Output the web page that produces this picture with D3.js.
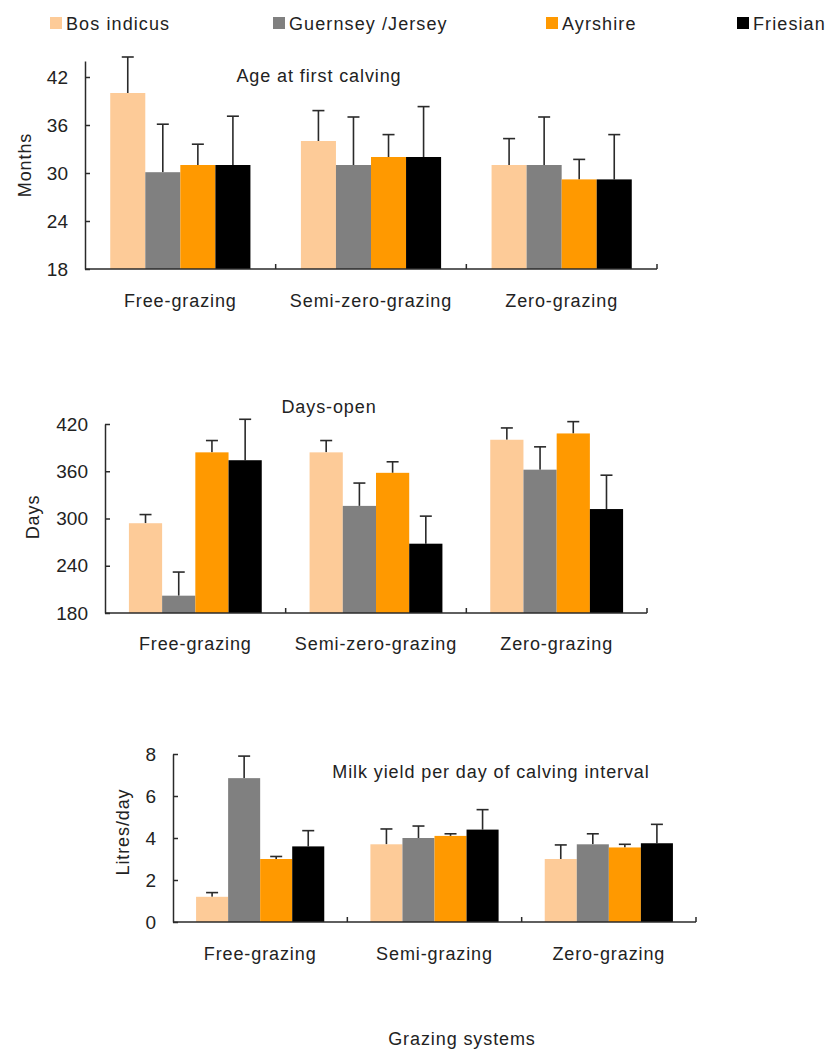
<!DOCTYPE html>
<html>
<head>
<meta charset="utf-8">
<script src="https://cdn.jsdelivr.net/npm/d3@7"></script>
<style>
  body { margin: 0; background: #fff; }
  text { font-family: 'Liberation Sans', Arial, sans-serif; fill: #222; }
</style>
</head>
<body>
<svg id="chart"></svg>
<script>
const series = ['Bos indicus', 'Guernsey /Jersey', 'Ayrshire', 'Friesian']
const colors = ['#fdcb98', '#808080', '#ff9900', '#000000']

// panel 1 - age at first calving (months)
const ageCats = ['Free-grazing', 'Semi-zero-grazing', 'Zero-grazing']
const ageMean = [[40, 30.1, 31, 31], [34, 31, 32, 32], [31, 31, 29.2, 29.2]]
const ageErr = [[4.5, 6, 2.6, 6.1], [3.8, 6, 2.8, 6.3], [3.3, 6, 2.5, 5.6]]
const ageTicks = [18, 24, 30, 36, 42]

// panel 2 - days open
const daysCats = ['Free-grazing', 'Semi-zero-grazing', 'Zero-grazing']
const daysMean = [[294, 202, 384, 374], [384, 316, 358, 268], [400, 362, 408, 312]]
const daysErr = [[11, 30, 15, 52], [15, 29, 14, 35], [15, 29, 15, 43]]
const daysTicks = [180, 240, 300, 360, 420]

// panel 3 - milk yield per day of calving interval
const milkCats = ['Free-grazing', 'Semi-grazing', 'Zero-grazing']
const milkMean = [[1.2, 6.85, 3.0, 3.6], [3.7, 4.0, 4.1, 4.4], [3.0, 3.7, 3.55, 3.75]]
const milkErr = [[0.2, 1.05, 0.12, 0.75], [0.73, 0.57, 0.1, 0.95], [0.67, 0.5, 0.15, 0.9]]
const milkTicks = [0, 2, 4, 6, 8]

const w = 829
const h = 1050
const ink = '#2a2a2a'

let svg = d3.select('#chart')
    .attr('width', w)
    .attr('height', h)

// legend
let legend = svg.append('g')
const legendX = [50, 273, 546, 737]
legend.selectAll('g')
    .data(series)
    .enter().append('g')
        .attr('transform', (d, i) => `translate(${legendX[i]}, 17)`)
    .each(function(d, i) {
        let g = d3.select(this)
        g.append('rect')
            .attr('width', 12).attr('height', 12)
            .attr('fill', colors[i])
        g.append('text')
            .attr('x', 16).attr('y', 12.5)
            .attr('font-size', 18)
            .attr('letter-spacing', 1.1)
            .text(d)
    })

function panel(opt) {
    let g = svg.append('g')

    let x = d3.scaleBand()
        .domain(opt.cats)
        .range([opt.x0, opt.x1])
        .paddingInner(0).paddingOuter(0)

    let xs = d3.scaleBand()
        .domain(series)
        .range([0, x.bandwidth()])
        .paddingInner(0)
        .paddingOuter(0.72)

    let y = d3.scaleLinear()
        .domain(opt.domain)
        .range([opt.yBottom, opt.yTop])

    // bars
    let groups = g.selectAll('g.cat')
        .data(opt.cats)
        .enter().append('g')
            .attr('class', 'cat')
            .attr('transform', d => `translate(${x(d)}, 0)`)

    groups.each(function(c, ci) {
        let cg = d3.select(this)
        let rows = series.map((s, si) => ({ s: s, v: opt.mean[ci][si], e: opt.err[ci][si], i: si }))

        cg.selectAll('line.err')
            .data(rows)
            .enter().append('line')
                .attr('x1', d => xs(d.s) + xs.bandwidth() / 2)
                .attr('x2', d => xs(d.s) + xs.bandwidth() / 2)
                .attr('y1', d => y(d.v))
                .attr('y2', d => y(d.v + d.e))
                .attr('stroke', ink)
                .attr('stroke-width', 1.6)

        cg.selectAll('line.cap')
            .data(rows)
            .enter().append('line')
                .attr('x1', d => xs(d.s) + xs.bandwidth() / 2 - 6)
                .attr('x2', d => xs(d.s) + xs.bandwidth() / 2 + 6)
                .attr('y1', d => y(d.v + d.e))
                .attr('y2', d => y(d.v + d.e))
                .attr('stroke', ink)
                .attr('stroke-width', 1.6)

        cg.selectAll('rect')
            .data(rows)
            .enter().append('rect')
                .attr('x', d => xs(d.s))
                .attr('width', xs.bandwidth())
                .attr('y', d => y(d.v))
                .attr('height', d => y(opt.domain[0]) - y(d.v))
                .attr('fill', d => colors[d.i])
    })

    // y axis, ticks pointing inwards
    let yAxis = g.append('g')
        .attr('transform', `translate(${opt.x0}, 0)`)
        .call(d3.axisLeft(y).tickValues(opt.ticks).tickSizeInner(-5).tickSizeOuter(0).tickPadding(17))
    yAxis.select('.domain').attr('stroke', ink).attr('stroke-width', 1.5)
    yAxis.selectAll('.tick line').attr('stroke', ink).attr('stroke-width', 1.5)
    yAxis.selectAll('.tick text')
        .attr('font-size', 19)
        .attr('font-family', "'Liberation Sans', Arial, sans-serif")
        .attr('fill', '#222')

    // x axis
    g.append('line')
        .attr('x1', opt.x0).attr('x2', opt.x1)
        .attr('y1', opt.yBottom).attr('y2', opt.yBottom)
        .attr('stroke', ink).attr('stroke-width', 1.5)

    let bounds = opt.cats.slice(1).map(c => x(c)).concat([opt.x1])
    g.selectAll('line.sep')
        .data(bounds)
        .enter().append('line')
            .attr('x1', d => d).attr('x2', d => d)
            .attr('y1', opt.yBottom).attr('y2', opt.yBottom - 5)
            .attr('stroke', ink).attr('stroke-width', 1.5)

    g.selectAll('text.cat')
        .data(opt.cats)
        .enter().append('text')
            .attr('x', d => x(d) + x.bandwidth() / 2)
            .attr('y', opt.labelY)
            .attr('text-anchor', 'middle')
            .attr('font-size', 18)
            .attr('letter-spacing', 0.9)
            .text(d => d)

    // title
    g.append('text')
        .attr('x', opt.titleX).attr('y', opt.titleY)
        .attr('text-anchor', 'middle')
        .attr('font-size', 18)
        .attr('letter-spacing', 0.9)
        .text(opt.title)

    // y label
    g.append('text')
        .attr('transform', `translate(${opt.ylabX}, ${opt.ylabY}) rotate(-90)`)
        .attr('text-anchor', 'middle')
        .attr('font-size', 18)
        .attr('letter-spacing', 0.9)
        .text(opt.ylab)
}

panel({
    cats: ageCats, mean: ageMean, err: ageErr, ticks: ageTicks, domain: [18, 44],
    x0: 85, x1: 657, yTop: 61, yBottom: 269, labelY: 307,
    title: 'Age at first calving', titleX: 319, titleY: 82,
    ylab: 'Months', ylabX: 31, ylabY: 165
})

panel({
    cats: daysCats, mean: daysMean, err: daysErr, ticks: daysTicks, domain: [180, 420],
    x0: 105, x1: 647, yTop: 424, yBottom: 613, labelY: 650,
    title: 'Days-open', titleX: 329, titleY: 413,
    ylab: 'Days', ylabX: 39, ylabY: 517
})

panel({
    cats: milkCats, mean: milkMean, err: milkErr, ticks: milkTicks, domain: [0, 8],
    x0: 173, x1: 696, yTop: 754, yBottom: 922, labelY: 960,
    title: 'Milk yield per day of calving interval', titleX: 491, titleY: 778,
    ylab: 'Litres/day', ylabX: 129, ylabY: 832
})

svg.append('text')
    .attr('x', 462).attr('y', 1045)
    .attr('text-anchor', 'middle')
    .attr('font-size', 18)
    .attr('letter-spacing', 0.9)
    .text('Grazing systems')
</script>
</body>
</html>
